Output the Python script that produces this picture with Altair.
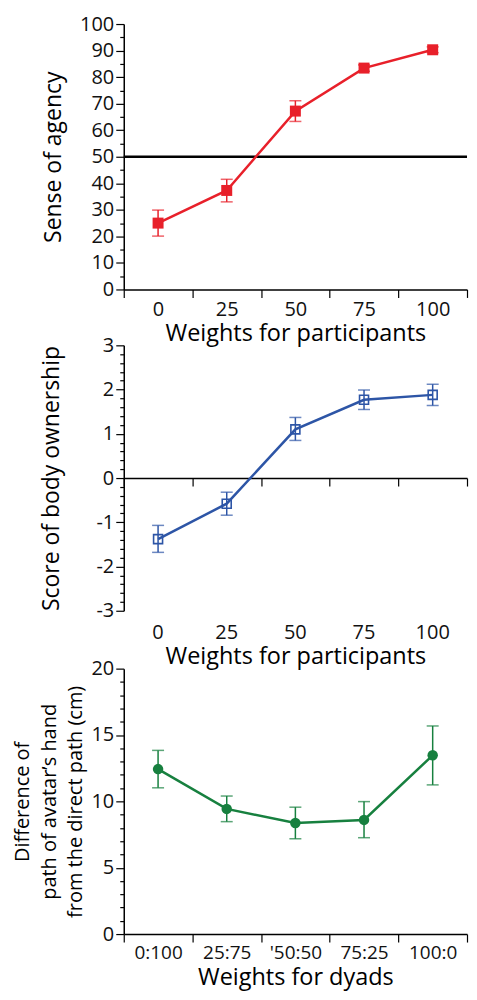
import altair as alt
import pandas as pd

# ---------------- data ----------------
weights = ["0", "25", "50", "75", "100"]
agency_mean = [25.0, 37.3, 67.2, 83.4, 90.3]
agency_lo = [20.1, 33.0, 63.3, 82.2, 89.2]
agency_hi = [29.9, 41.5, 71.1, 84.6, 91.4]
agency_reference = [50]

ownership_mean = [-1.38, -0.58, 1.10, 1.77, 1.88]
ownership_lo = [-1.68, -0.84, 0.85, 1.55, 1.64]
ownership_hi = [-1.07, -0.32, 1.37, 1.99, 2.12]

dyads = ["0:100", "25:75", "'50:50", "75:25", "100:0"]
path_mean = [12.43, 9.43, 8.37, 8.60, 13.47]
path_lo = [11.02, 8.47, 7.18, 7.26, 11.24]
path_hi = [13.84, 10.40, 9.56, 9.98, 15.68]

FONT = "Open Sans"
RED = "#e8202a"
BLUE = "#2d55a6"
GREEN = "#17803f"

W = 344
H = 266


def xscale():
    return alt.Scale(type="band", paddingInner=0, paddingOuter=0)


def build_panel(cats, mean, lo, hi, color, shape, filled, size, ydomain, yvalues,
                major_test, ytitle, yaxis_extra, xaxis_main, xtitle, xaxis_second=None,
                ref=None):
    df = pd.DataFrame({"cat": cats, "mean": mean, "lo": lo, "hi": hi})
    yaxis = alt.Axis(
        values=yvalues,
        labelExpr=f"({major_test}) ? '' + datum.value : ''",
        tickSize={"condition": {"test": f"!({major_test})", "value": 4}, "value": 8},
        title=ytitle,
        **yaxis_extra,
    )
    ysc = alt.Scale(domain=ydomain, nice=False, zero=False)

    def Y(field):
        return alt.Y(f"{field}:Q", scale=ysc, axis=yaxis, title=ytitle)

    split = xaxis_second is not None

    def X(axis, title=None):
        return alt.X("cat:N", sort=cats, scale=xscale(), axis=axis, title=title)

    def Xo():
        return X(None) if split else X(xaxis_main, xtitle)

    base = alt.Chart(df)
    layers = []
    if ref is not None:
        rdf = pd.DataFrame({"ref": ref})
        layers.append(
            alt.Chart(rdf).mark_rule(color="black", strokeWidth=2.5).encode(y=Y("ref"))
        )
    layers.append(base.mark_rule(color=color, strokeWidth=1.5).encode(
        x=X(xaxis_second) if split else Xo(), y=Y("lo"), y2="hi"))
    layers.append(base.mark_tick(color=color, orient="horizontal", size=12, thickness=1.5).encode(
        x=Xo(), y=Y("lo")))
    layers.append(base.mark_tick(color=color, orient="horizontal", size=12, thickness=1.5).encode(
        x=Xo(), y=Y("hi")))
    layers.append(base.mark_line(color=color, strokeWidth=2.5).encode(
        x=X(xaxis_main, xtitle), y=Y("mean")))
    layers.append(base.mark_point(shape=shape, filled=filled, size=size, color=color,
                                  opacity=1, strokeWidth=1.6).encode(
        x=Xo(), y=Y("mean")))
    ch = alt.layer(*layers).properties(width=W, height=H)
    return ch


# ---- top panel ----
top_xaxis = alt.Axis(labelAngle=0, tickBand="extent", tickSize=8, labelFontSize=20,
                     labelPadding=2, titleFontSize=23.5, titlePadding=2)
top = build_panel(
    weights, agency_mean, agency_lo, agency_hi, RED, "square", True, 121,
    [0, 100], list(range(0, 101, 5)), "datum.value % 10 === 0",
    "Sense of agency", dict(titlePadding=14, titleFontSize=23),
    top_xaxis, "Weights for participants", ref=agency_reference,
)

# ---- middle panel ----
mid_xaxis = alt.Axis(domain=False, ticks=False, orient="bottom",
                     labelAngle=0, labelFontSize=20, labelPadding=12,
                     titleFontSize=23.5, titlePadding=2)
mid_zero_axis = alt.Axis(labels=False, domain=True, ticks=True, orient="bottom",
                         tickBand="extent", tickSize=8, offset=-(H / 2))
ov = [round(-3 + 0.2 * i, 1) for i in range(31)]
mid = build_panel(
    weights, ownership_mean, ownership_lo, ownership_hi, BLUE, "square", False, 81,
    [-3, 3], ov, "abs(datum.value - round(datum.value)) < 0.001",
    "Score of body ownership", dict(titlePadding=33, titleFontSize=23),
    mid_xaxis, "Weights for participants", xaxis_second=mid_zero_axis,
).resolve_axis(x="independent")

# ---- bottom panel ----
bot_xaxis = alt.Axis(labelAngle=0, tickBand="extent",
                     tickSize=8, labelFontSize=19, labelPadding=1,
                     titleFontSize=23.5, titlePadding=4)
bot = build_panel(
    dyads, path_mean, path_lo, path_hi, GREEN, "circle", True, 110,
    [0, 20], list(range(0, 21)), "datum.value % 5 === 0",
    ["Difference of", "path of avatar\u2019s hand", "from the direct path (cm)"],
    dict(titlePadding=5, titleFontSize=20, titleLineHeight=27),
    bot_xaxis, "Weights for dyads",
)

chart = alt.vconcat(top, mid, bot, spacing=-10).properties(
    padding={"left": 4, "top": 5, "right": 0, "bottom": 0}
).configure_view(stroke=None).configure_axis(
    grid=False,
    domainColor="black",
    domainWidth=1.5,
    tickColor="black",
    tickWidth=1.2,
    labelColor="#111111",
    labelFont=FONT,
    labelFontSize=20,
    titleFont=FONT,
    titleFontWeight="normal",
    titleColor="black",
)

chart.save("out.html", embed_options={"renderer": "svg", "actions": False})
